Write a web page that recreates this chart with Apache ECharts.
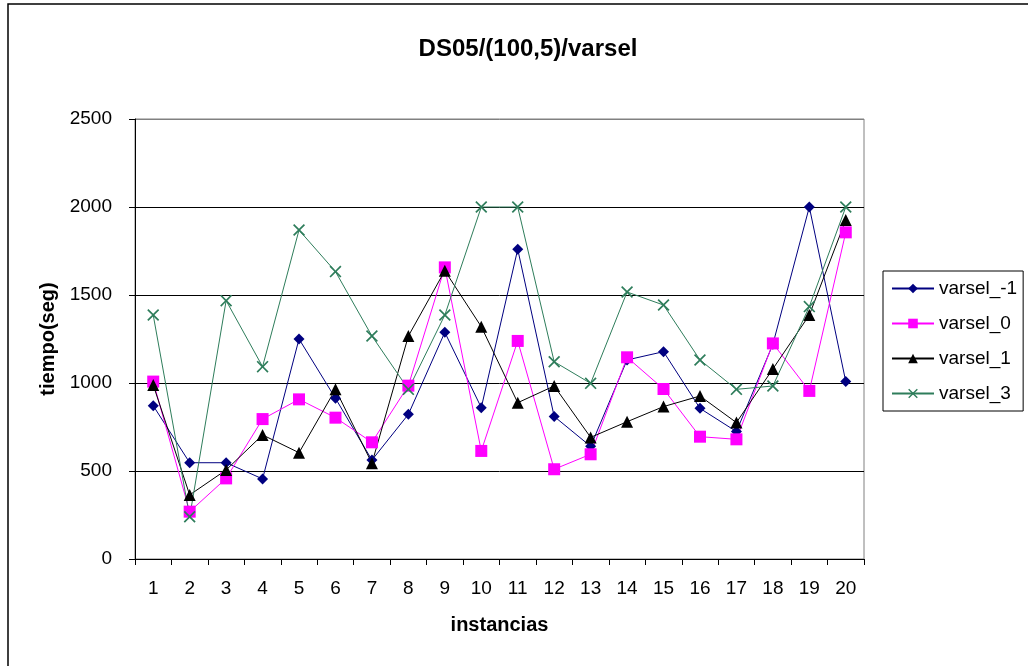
<!DOCTYPE html>
<html>
<head>
<meta charset="utf-8">
<script src="https://cdn.jsdelivr.net/npm/echarts@6/dist/echarts.min.js"></script>
<style>html,body{margin:0;padding:0;background:#fff}#c{width:1028px;height:666px}</style>
</head>
<body>
<div id="c"></div>
<script>
const categories = ['1','2','3','4','5','6','7','8','9','10','11','12','13','14','15','16','17','18','19','20'];
const varselM1 = [871, 547, 547, 455, 1250, 913, 562, 822, 1288, 860, 1760, 810, 640, 1131, 1178, 856, 724, 1220, 2000, 1008];
const varsel0 = [1008, 269, 458, 795, 907, 803, 663, 985, 1657, 614, 1239, 510, 595, 1146, 966, 695, 680, 1225, 955, 1856];
const varsel1 = [989, 364, 506, 705, 604, 964, 544, 1267, 1638, 1320, 888, 983, 691, 780, 866, 926, 775, 1080, 1386, 1926];
const varsel3 = [1386, 240, 1468, 1093, 1869, 1633, 1267, 964, 1386, 2000, 2000, 1121, 998, 1517, 1443, 1131, 964, 983, 1434, 2000];
const yTicks = [0, 500, 1000, 1500, 2000, 2500];

const FONT = '"Liberation Sans", Arial, sans-serif';
const xSym = 'path://M0,1L1,0L5,4L9,0L10,1L6,5L10,9L9,10L5,6L1,10L0,9L4,5Z';

const chart = echarts.init(document.getElementById('c'), null, {renderer: 'canvas'});
chart.setOption({
  animation: false,
  backgroundColor: '#fff',
  textStyle: {fontFamily: FONT, color: '#000'},
  title: {
    text: 'DS05/(100,5)/varsel',
    left: 523, top: 32, textAlign: 'center',
    textStyle: {fontFamily: FONT, fontSize: 24, fontWeight: 'bold', color: '#000'}
  },
  graphic: [{
    type: 'rect', shape: {x: 8, y: 4, width: 1100, height: 700},
    style: {fill: 'none', stroke: '#000', lineWidth: 1.5}, silent: true, z: -1
  }],
  legend: {
    orient: 'vertical', left: 883, top: 271,
    padding: [8, 6, 8, 8],
    itemWidth: 42, itemHeight: 12, itemGap: 16,
    borderColor: '#000', borderWidth: 1,
    textStyle: {fontFamily: FONT, fontSize: 19, color: '#000', lineHeight: 18},
    data: ['varsel_-1', 'varsel_0', 'varsel_1', 'varsel_3']
  },
  grid: {
    left: 135, right: 164, top: 119, bottom: 107,
    show: true, borderColor: '#808080', borderWidth: 1
  },
  xAxis: {
    type: 'category', data: categories, boundaryGap: true,
    name: 'instancias', nameLocation: 'middle', nameGap: 56,
    nameTextStyle: {fontFamily: FONT, fontSize: 20, fontWeight: 'bold', color: '#000'},
    axisLine: {lineStyle: {color: '#000', width: 1}},
    axisTick: {show: true, inside: false, length: 6, alignWithLabel: false, lineStyle: {color: '#000'}},
    axisLabel: {fontFamily: FONT, fontSize: 19, color: '#000', margin: 20, interval: 0},
    splitLine: {show: false}
  },
  yAxis: {
    type: 'value', min: yTicks[0], max: yTicks[yTicks.length - 1], interval: 500,
    name: 'tiempo(seg)', nameLocation: 'middle', nameGap: 73, nameRotate: 90,
    nameTextStyle: {fontFamily: FONT, fontSize: 20, fontWeight: 'bold', color: '#000'},
    axisLine: {show: true, lineStyle: {color: '#000', width: 1}},
    axisTick: {show: true, inside: false, length: 6, lineStyle: {color: '#000'}},
    axisLabel: {fontFamily: FONT, fontSize: 19, color: '#000', margin: 23, formatter: v => String(v)},
    splitLine: {show: true, lineStyle: {color: ['#000', '#000', '#000', '#000', '#000', '#808080'], width: 1}}
  },
  series: [
    {
      name: 'varsel_-1', type: 'line', data: varselM1,
      symbol: 'diamond', symbolSize: 11, showAllSymbol: true,
      lineStyle: {color: '#000080', width: 1},
      itemStyle: {color: '#000080'}
    },
    {
      name: 'varsel_0', type: 'line', data: varsel0,
      symbol: 'rect', symbolSize: 12, showAllSymbol: true,
      lineStyle: {color: '#FF00FF', width: 1},
      itemStyle: {color: '#FF00FF'}
    },
    {
      name: 'varsel_1', type: 'line', data: varsel1,
      symbol: 'triangle', symbolSize: 12, showAllSymbol: true,
      lineStyle: {color: '#000', width: 1},
      itemStyle: {color: '#000'}
    },
    {
      name: 'varsel_3', type: 'line', data: varsel3,
      symbol: xSym, symbolSize: 12, showAllSymbol: true,
      lineStyle: {color: '#2E7D5B', width: 1},
      itemStyle: {color: '#2E7D5B'}
    }
  ]
});
</script>
</body>
</html>
